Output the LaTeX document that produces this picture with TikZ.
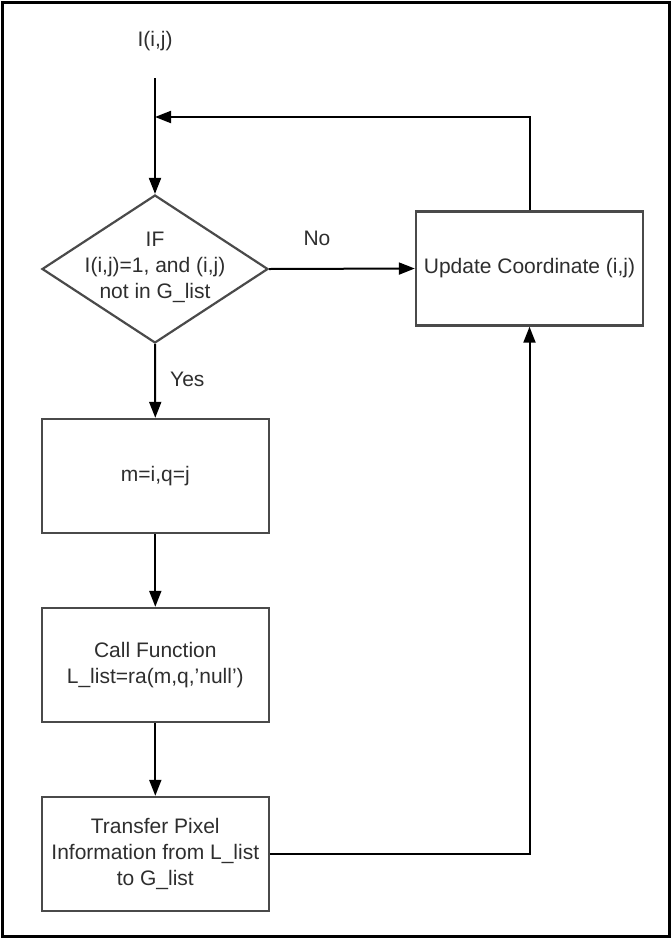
\documentclass[tikz,border=0pt]{standalone}
\usepackage{fontspec}
\setmainfont{Liberation Sans}
\usetikzlibrary{shapes.geometric,arrows.meta}
\definecolor{txtc}{HTML}{2E2E2E}
\definecolor{boxc}{HTML}{4A4A4A}
\tikzset{
  every node/.style={font=\fontsize{21}{26}\selectfont, text=txtc},
  procbox/.style={draw=boxc, line width=2.4pt, minimum width=227pt, minimum height=114pt, align=center, inner sep=0pt},
  decision/.style={draw=boxc, line width=2.2pt, diamond, minimum width=226pt, minimum height=148pt, inner sep=0pt},
  conn/.style={draw=black, line width=2pt, -{Triangle[length=16pt,width=12pt]}},
}
\begin{document}
\begin{tikzpicture}[x=1pt,y=-1pt]
\useasboundingbox (0,0) rectangle (671,938);
\draw[line width=3pt, black] (2,2) rectangle (669,936);

\node (start) at (155,41) {I(i,j)};
\coordinate (startpt) at (155,78);
\coordinate (join) at (155,117);

\node[decision] (dec) at (155,269) {};
\node[align=center] (dectxt) at (155,267) {IF\\I(i,j)=1, and (i,j)\\not in G\_list};

\node[procbox] (upd) at (529.5,268.5) {Update Coordinate (i,j)};
\node[procbox] (mbox) at (155.3,476) {m=i,q=j};
\node[procbox] (call) at (155.3,665) {Call Function\\L\_list=ra(m,q,'null')};
\node[procbox] (trans) at (155.3,854) {Transfer Pixel\\Information from L\_list\\to G\_list};

\node (nolbl) at (317,238) {No};
\node[anchor=west, inner sep=0pt] (yeslbl) at (170,379) {Yes};

\draw[conn] (startpt) -- (dec.north);
\draw[conn] (dec.east) -- (upd.west);
\draw[conn] (dec.south) -- (mbox.north);
\draw[conn] (mbox.south) -- (call.north);
\draw[conn] (call.south) -- (trans.north);
\draw[conn] (trans.east) -| (upd.south);
\draw[conn] (upd.north) |- (join);
\end{tikzpicture}
\end{document}
